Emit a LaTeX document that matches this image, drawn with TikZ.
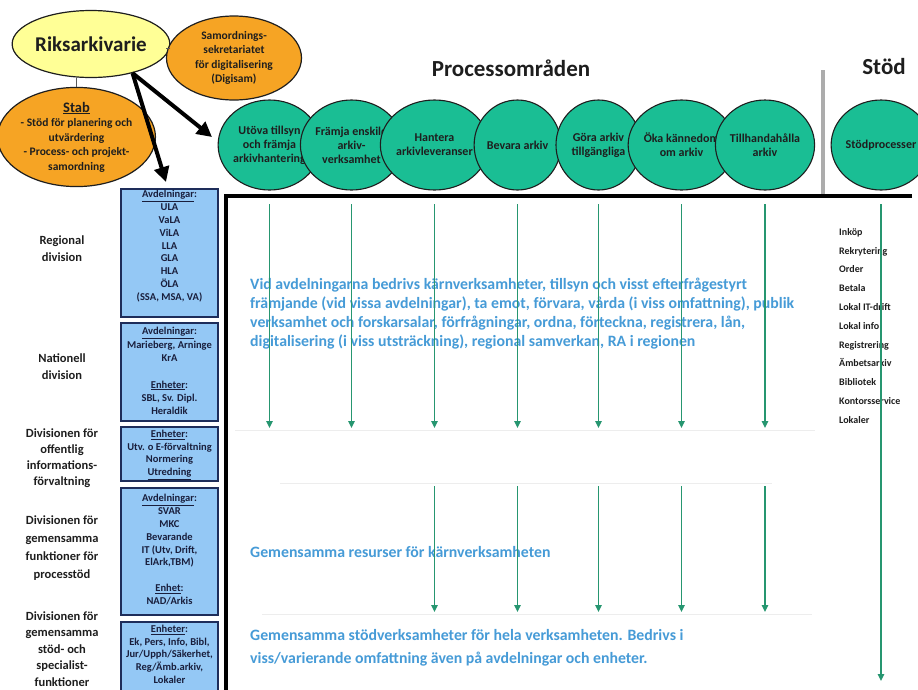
\documentclass[tikz,border=0pt]{standalone}
\usepackage{fontspec}
\setmainfont{Carlito}
\usetikzlibrary{shapes.geometric,arrows.meta}

\definecolor{riky}{RGB}{255,255,150}
\definecolor{orng}{RGB}{246,164,36}
\definecolor{proccol}{RGB}{26,190,148}
\definecolor{flow}{RGB}{38,150,112}
\definecolor{boxblue}{RGB}{148,200,245}
\definecolor{boxedge}{RGB}{30,45,90}
\definecolor{boxink}{RGB}{25,30,60}
\definecolor{notecol}{RGB}{70,155,215}
\definecolor{ink}{RGB}{30,30,30}

\newcommand\fsz[2]{\fontsize{#1}{#2}\selectfont}

\tikzset{
  oval/.style={ellipse, draw=ink, line width=1.2pt, inner sep=0pt, align=center, text=ink},
  procball/.style={ellipse, draw=ink, fill=proccol, line width=1.1pt,
    minimum width=85pt, minimum height=90pt, inner sep=0pt, align=center,
    font=\bfseries\fsz{12}{14}, text=ink},
  unitbox/.style={draw=boxedge, fill=boxblue, line width=1.5pt, minimum width=97pt, inner sep=0pt},
  unittext/.style={anchor=north, align=center, inner sep=0pt, font=\bfseries\fsz{10.5}{12.8}, text=boxink},
  divlabel/.style={align=center, inner sep=0pt, font=\bfseries\fsz{12.5}{17}, text=ink},
  notetext/.style={align=left, inner sep=0pt, font=\bfseries\fsz{15.8}{19}, text=notecol},
  flowarrow/.style={draw=flow, line width=1.4pt, -{Triangle[length=7pt,width=6.5pt]}},
  bigarrow/.style={draw=black, line width=4pt, -{Triangle[length=15pt,width=15pt]}},
  linkline/.style={draw=gray!70!black, line width=1pt},
  sepline/.style={draw=gray!14, line width=1pt},
  heading/.style={inner sep=0pt, font=\bfseries\fsz{23}{26}, text=ink},
}

\begin{document}
\begin{tikzpicture}[x=1pt,y=-1pt]
\useasboundingbox[fill=white] (0,0) rectangle (918,689);

% leadership and staff
\node[oval, fill=riky, minimum width=118pt, minimum height=67pt,
      font=\bfseries\fsz{21}{24}] (rik) at (91,44) {Riksarkivarie};
\node[oval, fill=orng, minimum width=135pt, minimum height=84pt,
      font=\bfseries\fsz{11.5}{14.5}] (sam) at (234,58)
      {Samordnings-\\sekretariatet\\för digitalisering\\(Digisam)};
\node[oval, fill=orng, minimum width=137pt, minimum height=90pt,
      font=\bfseries\fsz{11.5}{14.5}] (stab) at (76.5,137)
      {{\fsz{14.5}{15}\underline{Stab}}\\- Stöd för planering och\\utvärdering\\- Process- och projekt-\\samordning};

\coordinate (rikE) at ([yshift=-4pt]rik.east);
\draw[linkline] (rikE) -- (sam.west |- rikE);
\draw[linkline] (stab.north) -- (stab.north |- rik.south);

\coordinate (tipA) at (212,137);
\coordinate (tipB) at (166,182);
\draw[bigarrow] (rik.-35) -- (tipA);
\draw[bigarrow] (rik.-35) -- (tipB);

% headings
\node[heading] (ptitle) at (511,68) {Processområden};
\node[heading] (stitle) at (884,67) {Stöd};

% frame of the process area
\coordinate (divtop) at (823,70);
\coordinate (divbot) at (823,196);
\draw[draw=gray!65, line width=3.2pt] (divtop) -- (divbot);
\coordinate (frameR) at (912,196);
\coordinate (frameL) at (226,196);
\coordinate (frameB) at (226,692);
\draw[line width=3.2pt] (frameR) -- (frameL) -- (frameB);

% core processes
\node[procball] (p1) at (269.5,145) {Utöva tillsyn\\och främja\\arkivhantering};
\node[procball] (p2) at (351.5,145) {Främja enskild\\arkiv-\\verksamhet};
\node[procball] (p3) at (434.5,145) {Hantera\\arkivleveranser};
\node[procball] (p4) at (517.5,145) {Bevara arkiv};
\node[procball] (p5) at (598.5,145) {Göra arkiv\\tillgängliga};
\node[procball] (p6) at (681.5,145) {Öka kännedom\\om arkiv};
\node[procball] (p7) at (765,145) {Tillhandahålla\\arkiv};
\node[procball] (p8) at (881,145) {Stödprocesser};

% divisions
\node[divlabel] (l1) at (62,249) {Regional\\division};
\node[divlabel] (l2) at (62,367) {Nationell\\division};
\node[divlabel, font=\bfseries\fsz{12.5}{16}] (l3) at (62,458) {Divisionen för\\offentlig\\informations-\\förvaltning};
\node[divlabel, font=\bfseries\fsz{12.5}{18}] (l4) at (62,548) {Divisionen för\\gemensamma\\funktioner för\\processtöd};
\node[divlabel, font=\bfseries\fsz{12.5}{16.5}] (l5) at (62,649) {Divisionen för\\gemensamma\\stöd- och\\specialist-\\funktioner};

\node[unitbox, minimum height=128pt] (u1) at (169.5,253) {};
\node[unittext] (u1t) at ([yshift=-2pt]u1.north)
  {\underline{Avdelningar}:\\ULA\\VaLA\\ViLA\\LLA\\GLA\\HLA\\ÖLA\\(SSA, MSA, VA)};
\node[unitbox, minimum height=98pt] (u2) at (169.5,372) {};
\node[unittext, font=\bfseries\fsz{10.5}{13.3}] (u2t) at ([yshift=-5pt]u2.north)
  {\underline{Avdelningar}:\\Marieberg, Arninge\\KrA\\[13.3pt]\underline{Enheter}:\\SBL, Sv. Dipl.\\Heraldik};
\node[unitbox, minimum height=54pt] (u3) at (169.5,454) {};
\node[unittext] (u3t) at ([yshift=-3.5pt]u3.north)
  {\underline{Enheter}:\\Utv. o E-förvaltning\\Normering\\\underline{Utredning}};
\node[unitbox, minimum height=127pt] (u4) at (169.5,551.5) {};
\node[unittext] (u4t) at ([yshift=-7pt]u4.north)
  {\underline{Avdelningar}:\\SVAR\\MKC\\Bevarande\\IT (Utv, Drift,\\ElArk,TBM)\\[12.8pt]\underline{Enhet}:\\NAD/Arkis};
\node[unitbox, minimum height=78pt] (u5) at (169.5,661) {};
\node[unittext] (u5t) at ([yshift=-3.5pt]u5.north)
  {\underline{Enheter}:\\Ek, Pers, Info, Bibl,\\Jur/Upph/Säkerhet,\\Reg/Ämb.arkiv,\\Lokaler};

% faint row separators
\draw[sepline] (235,430) -- (815,430);
\draw[sepline] (280,483) -- (772,483);
\draw[sepline] (262,614) -- (812,614);

% descriptions
\node[notetext, anchor=north west] (n1) at (250,278)
  {Vid avdelningarna bedrivs kärnverksamheter, tillsyn och visst efterfrågestyrt\\
   främjande (vid vissa avdelningar), ta emot, förvara, vårda (i viss omfattning), publik\\
   verksamhet och forskarsalar, förfrågningar, ordna, förteckna, registrera, lån,\\
   digitalisering (i viss utsträckning), regional samverkan, RA i regionen};
\node[notetext, anchor=base west] (n2) at (250,557) {Gemensamma resurser för kärnverksamheten};
\node[notetext, anchor=north west, font=\bfseries\fsz{15.8}{23}] (n3) at (250,629)
  {Gemensamma stödverksamheter för hela verksamheten. Bedrivs i\\
   viss/varierande omfattning även på avdelningar och enheter.};

% support processes
\node[anchor=north west, align=left, inner sep=0pt, font=\bfseries\fsz{10}{18.8}, text=ink] (stodlist) at (839,228)
  {Inköp\\Rekrytering\\Order\\Betala\\Lokal IT-drift\\Lokal info\\Registrering\\Ämbetsarkiv\\Bibliotek\\Kontorsservice\\Lokaler};

% flows from the processes
\coordinate (rowA) at (0,204);
\coordinate (rowAend) at (0,428);
\coordinate (rowB) at (0,486);
\coordinate (rowBend) at (0,612);
\coordinate (stodend) at (0,681);
\foreach \c in {p1,p2,p3,p4,p5,p6,p7}
  \draw[flowarrow] (\c |- rowA) -- (\c |- rowAend);
\foreach \c in {p3,p4,p5,p6,p7}
  \draw[flowarrow] (\c |- rowB) -- (\c |- rowBend);
\draw[flowarrow] (p8 |- rowA) -- (p8 |- stodend);
\end{tikzpicture}
\end{document}
